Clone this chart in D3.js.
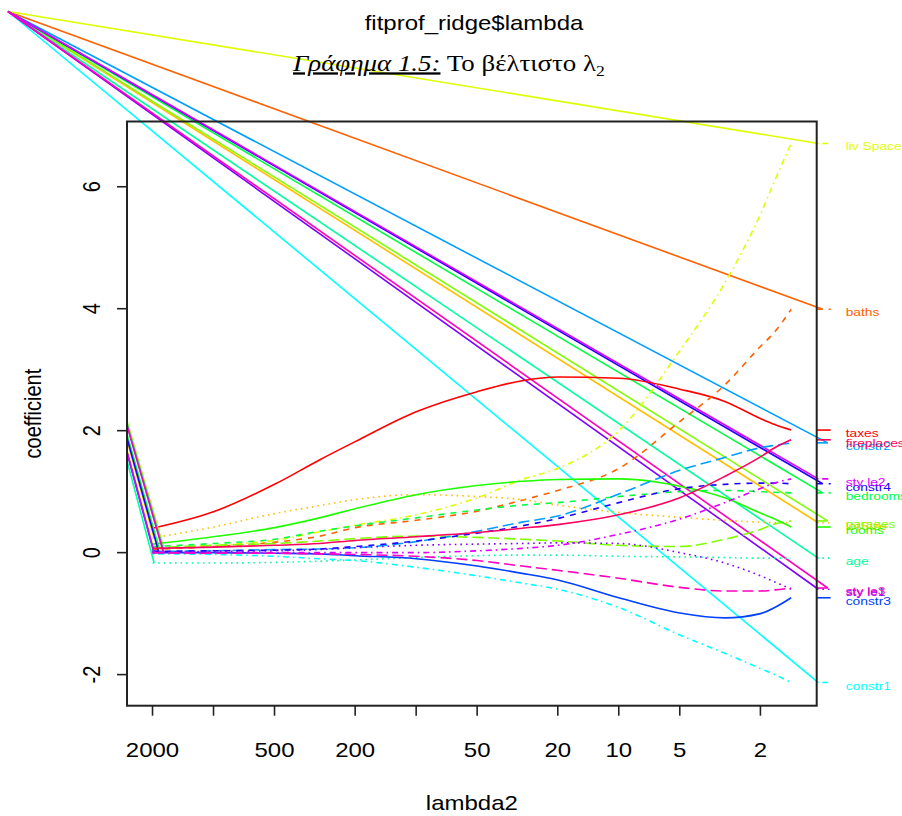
<!DOCTYPE html>
<html>
<head>
<meta charset="utf-8">
<script src="https://cdn.jsdelivr.net/npm/d3@7/dist/d3.min.js"></script>
<style>
body { margin: 0; background: #fff; }
</style>
</head>
<body>
<script>
// lambda2 grid and coefficient paths, one array per variable
var lambdas = [2000, 1000, 500, 300, 200, 100, 50, 30, 20, 10, 5, 3, 2, 1.7, 1.41];

var taxes      = [0.40, 0.67, 1.12, 1.52, 1.82, 2.31, 2.64, 2.82, 2.88, 2.86, 2.68, 2.48, 2.20, 2.10, 2.01];
var baths      = [0.05, 0.10, 0.17, 0.27, 0.41, 0.53, 0.68, 0.86, 1.02, 1.38, 2.15, 2.75, 3.38, 3.62, 3.99];
var lotSize    = [0.24, 0.42, 0.64, 0.77, 0.87, 0.95, 0.92, 0.87, 0.78, 0.66, 0.58, 0.53, 0.50, 0.49, 0.49];
var livSpace   = [0.05, 0.12, 0.20, 0.34, 0.45, 0.62, 0.90, 1.20, 1.38, 2.00, 3.31, 4.42, 5.55, 6.10, 6.71];
var garages    = [0.08, 0.12, 0.15, 0.19, 0.23, 0.27, 0.25, 0.22, 0.19, 0.12, 0.10, 0.22, 0.38, 0.47, 0.52];
var rooms      = [0.14, 0.26, 0.41, 0.57, 0.72, 0.95, 1.10, 1.17, 1.20, 1.21, 1.09, 0.90, 0.65, 0.55, 0.42];
var bedrooms   = [0.10, 0.15, 0.22, 0.35, 0.44, 0.57, 0.70, 0.78, 0.82, 0.92, 1.00, 1.02, 1.00, 0.99, 0.98];
var age        = [-0.17, -0.17, -0.16, -0.14, -0.12, -0.08, -0.05, -0.04, -0.04, -0.06, -0.07, -0.08, -0.09, -0.09, -0.09];
var constr1    = [-0.02, -0.03, -0.06, -0.10, -0.13, -0.24, -0.38, -0.50, -0.60, -0.90, -1.35, -1.65, -1.90, -2.00, -2.13];
var constr2    = [0.02, 0.03, 0.05, 0.06, 0.08, 0.18, 0.35, 0.50, 0.60, 0.96, 1.35, 1.56, 1.72, 1.76, 1.80];
var constr3    = [0.00, 0.00, -0.01, -0.02, -0.05, -0.10, -0.22, -0.34, -0.45, -0.74, -0.99, -1.07, -1.00, -0.90, -0.74];
var constr4    = [0.02, 0.03, 0.04, 0.06, 0.10, 0.19, 0.32, 0.44, 0.56, 0.82, 1.05, 1.12, 1.14, 1.14, 1.13];
var style1     = [0.00, 0.02, 0.03, 0.05, 0.08, 0.12, 0.14, 0.15, 0.16, 0.15, 0.00, -0.17, -0.38, -0.48, -0.60];
var style2     = [0.00, 0.00, 0.00, 0.00, 0.00, 0.00, 0.03, 0.07, 0.12, 0.30, 0.55, 0.82, 1.05, 1.14, 1.21];
var style3     = [0.00, -0.01, -0.01, -0.02, -0.03, -0.06, -0.13, -0.22, -0.29, -0.42, -0.57, -0.63, -0.63, -0.61, -0.58];
var fireplaces = [0.07, 0.09, 0.12, 0.15, 0.20, 0.26, 0.33, 0.40, 0.46, 0.62, 0.90, 1.25, 1.57, 1.72, 1.85];

var seriesValues = [taxes, baths, lotSize, livSpace, garages, rooms, bedrooms, age,
                    constr1, constr2, constr3, constr4, style1, style2, style3, fireplaces];
var seriesLabels = ["taxes", "baths", "lotSize", "liv Space", "garages", "rooms", "bedrooms", "age",
                    "constr1", "constr2", "constr3", "constr4", "sty le1", "sty le2", "sty le3", "fireplaces"];

var xTicks = [2000, 1000, 500, 200, 100, 50, 20, 10, 5, 2];
var xTickLabels = ["2000", "", "500", "200", "", "50", "20", "10", "5", "2"];
var yTicks = [-2, 0, 2, 4, 6];

var mainTitle = "fitprof_ridge$lambda";
var xTitle = "lambda2";
var yTitle = "coefficient";

var width = 902, height = 816;
var box = { left: 127, right: 816.7, top: 121.5, bottom: 705.7 };
var glitch = [8, 11.5];   // stray start point of the first dash of every broken line
var stretch = 1.2;        // the picture is stretched sideways

// R style: rainbow colours, lty cycling over 5 types
var ltys = [null, "6,6", "1.6,4", "1.6,4,6,4", "11,5"];
var firstDash = [0, 6, 1.6, 1.6, 11];
function rainbowCol(i, n) { return d3.hsl(360 * i / n, 1, 0.5).formatHex(); }
function hasStray(i) { return i % 5 !== 0; }

var svg = d3.select("body").append("svg")
    .attr("width", width)
    .attr("height", height)
    .style("font-family", "'Liberation Sans', Arial, sans-serif");

svg.append("rect").attr("width", width).attr("height", height).attr("fill", "#fff");

var x = d3.scaleLog().domain([2673, 1.055]).range([box.left, box.right]);
var y = d3.scaleLinear().domain([-2.51, 7.07]).range([box.bottom, box.top]);

svg.append("clipPath").attr("id", "plotclip")
    .append("rect")
    .attr("x", box.left).attr("y", box.top)
    .attr("width", box.right - box.left).attr("height", box.bottom - box.top);

var line = d3.line()
    .x(function(d) { return x(d[0]); })
    .y(function(d) { return y(d[1]); })
    .curve(d3.curveMonotoneX);

var n = seriesValues.length;

// stray lines from the corner to the end of each label tick's first dash
var stray = svg.append("g");
seriesValues.forEach(function(vals, i) {
    if (!hasStray(i)) return;
    stray.append("line")
        .attr("x1", glitch[0]).attr("y1", glitch[1])
        .attr("x2", box.right + firstDash[i % 5]).attr("y2", y(vals[vals.length - 1]))
        .attr("stroke", rainbowCol(i, n)).attr("stroke-width", 1.6);
});

// coefficient paths (clipped to the plot box)
var paths = svg.append("g").attr("clip-path", "url(#plotclip)");
seriesValues.forEach(function(vals, i) {
    var pts = lambdas.map(function(l, j) { return [l, vals[j]]; });
    var col = rainbowCol(i, n);
    var p = paths.append("path")
        .attr("d", line(pts))
        .attr("fill", "none")
        .attr("stroke", col)
        .attr("stroke-width", 1.6)
        .attr("stroke-dasharray", ltys[i % 5]);
    if (hasStray(i)) {
        var end = p.node().getPointAtLength(firstDash[i % 5]);
        paths.append("line")
            .attr("x1", glitch[0]).attr("y1", glitch[1])
            .attr("x2", end.x).attr("y2", end.y)
            .attr("stroke", col).attr("stroke-width", 1.6);
    }
});

// right hand label ticks and names
var labs = svg.append("g");
seriesValues.forEach(function(vals, i) {
    var yEnd = y(vals[vals.length - 1]);
    var col = rainbowCol(i, n);
    labs.append("line")
        .attr("x1", box.right).attr("y1", yEnd)
        .attr("x2", box.right + 14).attr("y2", yEnd)
        .attr("stroke", col).attr("stroke-width", 1.6)
        .attr("stroke-dasharray", ltys[i % 5]);
    labs.append("text")
        .attr("transform", "translate(" + (box.right + 29) + "," + (yEnd + 7) + ") scale(" + stretch + ",1)")
        .attr("font-size", "11.5px")
        .attr("fill", col)
        .text(seriesLabels[i]);
});

// box
svg.append("rect")
    .attr("x", box.left).attr("y", box.top)
    .attr("width", box.right - box.left).attr("height", box.bottom - box.top)
    .attr("fill", "none").attr("stroke", "#222").attr("stroke-width", 2);

// x axis
var xAxis = svg.append("g");
xAxis.selectAll("line").data(xTicks).enter().append("line")
    .attr("x1", function(d) { return x(d); }).attr("x2", function(d) { return x(d); })
    .attr("y1", box.bottom).attr("y2", box.bottom + 10)
    .attr("stroke", "#222").attr("stroke-width", 1.6);
xAxis.selectAll("text").data(xTicks).enter().append("text")
    .attr("transform", function(d) { return "translate(" + x(d) + "," + 757 + ") scale(" + stretch + ",1)"; })
    .attr("text-anchor", "middle")
    .attr("font-size", "20px")
    .text(function(d, i) { return xTickLabels[i]; });

// y axis
var yAxis = svg.append("g");
yAxis.selectAll("line").data(yTicks).enter().append("line")
    .attr("x1", box.left - 10).attr("x2", box.left)
    .attr("y1", function(d) { return y(d); }).attr("y2", function(d) { return y(d); })
    .attr("stroke", "#222").attr("stroke-width", 1.6);
yAxis.selectAll("text").data(yTicks).enter().append("text")
    .attr("transform", function(d) { return "translate(" + 100 + "," + y(d) + ") scale(" + stretch + ",1) rotate(-90)"; })
    .attr("text-anchor", "middle")
    .attr("font-size", "20px")
    .text(function(d) { return d; });

// titles
svg.append("text")
    .attr("transform", "translate(" + 474 + "," + 30 + ") scale(" + stretch + ",1)")
    .attr("text-anchor", "middle")
    .attr("font-size", "20px")
    .text(mainTitle);
svg.append("text")
    .attr("transform", "translate(" + (box.left + box.right) / 2 + "," + 810 + ") scale(" + stretch + ",1)")
    .attr("text-anchor", "middle")
    .attr("font-size", "20px")
    .text(xTitle);
svg.append("text")
    .attr("transform", "translate(" + 41 + "," + (box.top + box.bottom) / 2 + ") scale(" + stretch + ",1) rotate(-90)")
    .attr("text-anchor", "middle")
    .attr("font-size", "20px")
    .text(yTitle);

// caption pasted over the figure
var cap = svg.append("text")
    .attr("transform", "translate(" + 293 + "," + 70.5 + ") scale(" + 1.17 + ",1)")
    .attr("font-family", "'Liberation Serif', 'Times New Roman', serif")
    .attr("font-size", "23px")
    .attr("fill", "#000");
cap.append("tspan").attr("font-style", "italic").attr("text-decoration", "underline").text("Γράφημα 1.5:");
cap.append("tspan").text(" Το βέλτιστο λ");
cap.append("tspan").attr("font-size", "15px").attr("dy", 5).text("2");
</script>
</body>
</html>
